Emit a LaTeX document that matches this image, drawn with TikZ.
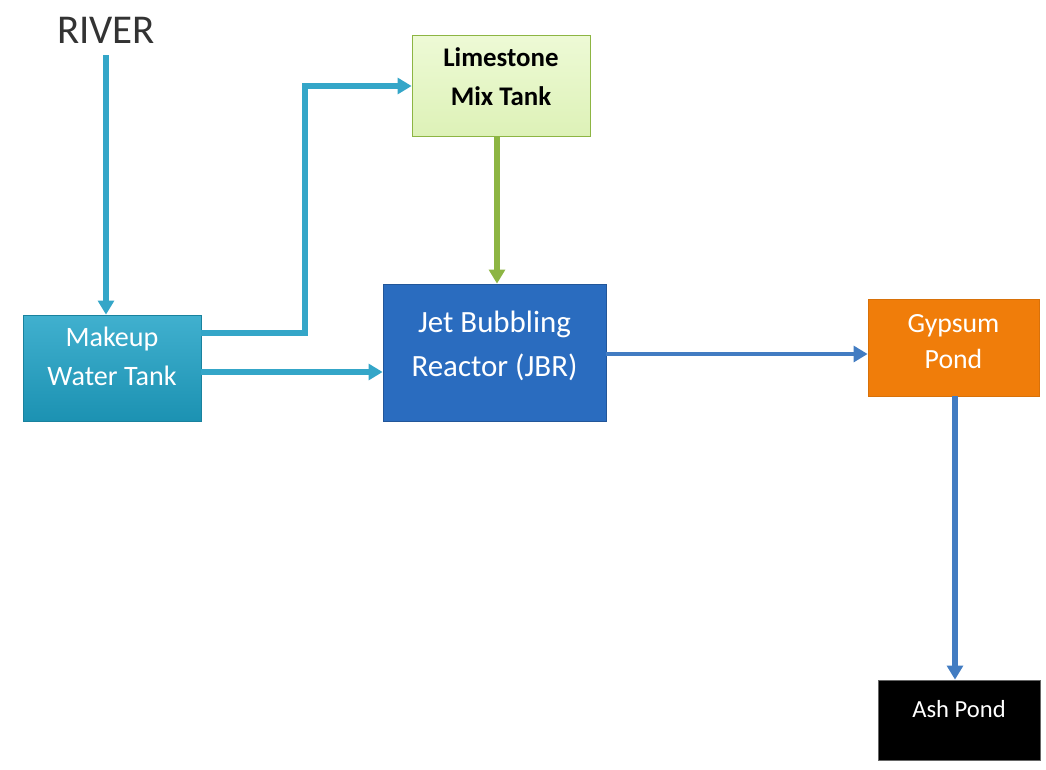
\documentclass[tikz,border=0pt]{standalone}
\usepackage{fontspec}
\setmainfont{Carlito}
\usetikzlibrary{arrows.meta}
\definecolor{teal}{HTML}{1FA2C6}
\definecolor{tealline}{HTML}{34A6C8}
\definecolor{limefill}{HTML}{E6F8C4}
\definecolor{limeline}{HTML}{8DB543}
\definecolor{jbrblue}{HTML}{2A6CBF}
\definecolor{flowblue}{HTML}{427CC2}
\definecolor{gypsum}{HTML}{F07D0A}
\newcommand{\lifted}[2]{\raisebox{#1}[\height][\depth]{\begin{tabular}{@{}c@{}}#2\end{tabular}}}
\tikzset{
	tank/.style={draw, thin, align=center, inner sep=0pt},
	flow/.style={line width=3.4pt, -{Triangle[length=8pt, width=9pt]}},
}
\begin{document}
\begin{tikzpicture}[x=0.02cm, y=-0.02cm]
	\useasboundingbox (0,0) rectangle (1046,769);
	% Quelle
	\node[text=black!80, font=\fontsize{23.3}{28}\selectfont] (river) at (106,30) {RIVER};
	% Behaelter
	\node[tank, draw=teal!80!black, top color=teal!85!white, bottom color=teal!90!black,
		text=white, minimum width=178*0.02cm, minimum height=106*0.02cm,
		font=\fontsize{16}{22}\selectfont] (makeup) at (112,368) {\lifted{5.7pt}{Makeup\\Water Tank}};
	\node[tank, draw=limeline, top color=limefill!70!white, bottom color=limefill!90!limeline,
		minimum width=178*0.02cm, minimum height=101*0.02cm,
		font=\bfseries\fontsize{15.3}{22}\selectfont] (lime) at (501,85.5) {\lifted{4pt}{Limestone\\Mix Tank}};
	\node[tank, draw=jbrblue!80!black, fill=jbrblue, text=white, minimum width=223*0.02cm,
		minimum height=137*0.02cm, font=\fontsize{17.6}{25}\selectfont] (jbr) at (494.5,352.5)
		{\lifted{4pt}{Jet Bubbling\\Reactor (JBR)}};
	\node[tank, draw=gypsum!90!black, fill=gypsum, text=white, minimum width=171*0.02cm,
		minimum height=97*0.02cm, font=\fontsize{15.8}{20}\selectfont] (gypsum) at (953.5,347.5)
		{\lifted{2.3pt}{Gypsum\\Pond}};
	\node[tank, draw=black!60, fill=black, text=white, minimum width=162*0.02cm,
		minimum height=80*0.02cm, font=\fontsize{14}{17}\selectfont] (ash) at (959,720)
		{\lifted{5pt}{Ash Pond}};
	% Leitungen
	\coordinate (rivertop) at (106,55);
	\draw[flow, draw=tealline] (rivertop) -- (rivertop |- makeup.north);
	\draw[flow, draw=tealline] ([yshift=-18*0.02cm]makeup.north east) -| (305,86) -- (lime.west |- 0,86);
	\draw[flow, draw=tealline] ([yshift=-4*0.02cm]makeup.east) -- ([yshift=-4*0.02cm]makeup.east -| jbr.west);
	\draw[flow, draw=limeline] ([xshift=-4*0.02cm]lime.south) -- ([xshift=-4*0.02cm]lime.south |- jbr.north);
	\draw[flow, draw=flowblue, line width=2.4pt] (jbr.east |- 0,354) -- (gypsum.west |- 0,354);
	\draw[flow, draw=flowblue, line width=3pt] (gypsum.south -| 955,0) -- (ash.north -| 955,0);
\end{tikzpicture}
\end{document}
